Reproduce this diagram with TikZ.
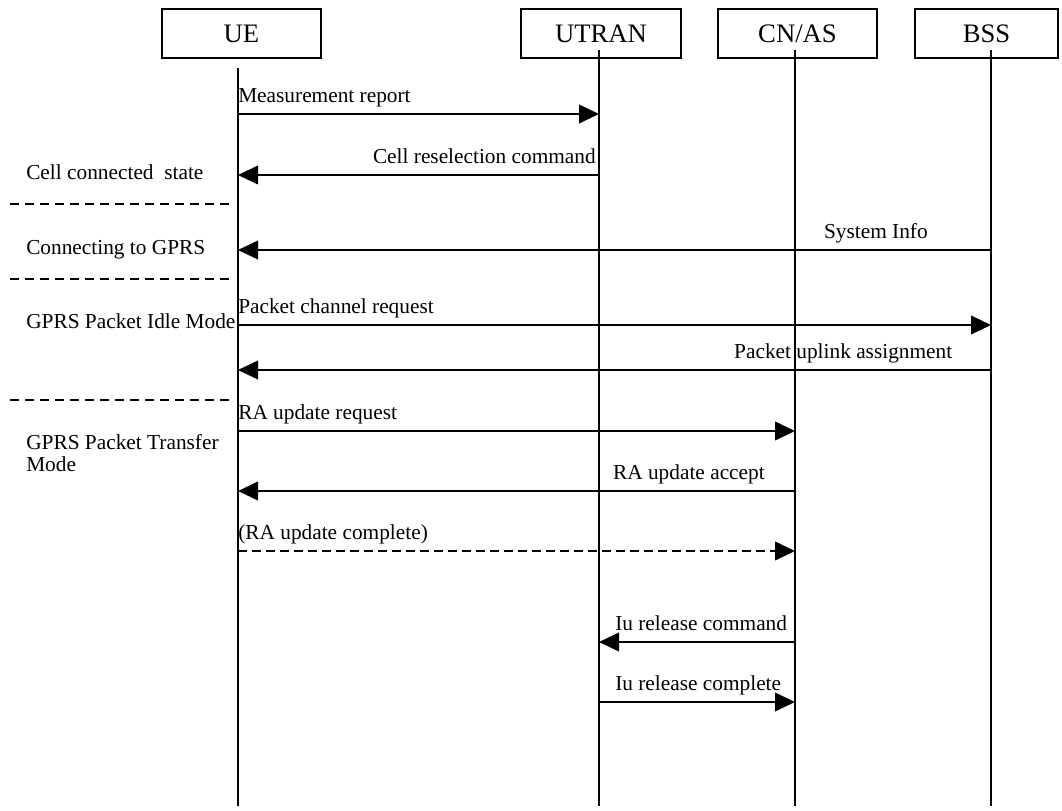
\documentclass[tikz,border=0pt]{standalone}
\usepackage{fontspec}
\setmainfont{Liberation Serif}
\usetikzlibrary{arrows.meta}
\begin{document}
\begin{tikzpicture}[x=0.75pt,y=-0.75pt,
  actor/.style={draw, line width=1.3pt, rectangle, minimum height=36.75pt, inner sep=0pt, font=\fontsize{20}{24}\selectfont},
  life/.style={line width=1.5pt},
  msg/.style={line width=1.3pt, -{Triangle[length=15pt,width=14pt]}},
  dmsg/.style={msg, dash pattern=on 6.75pt off 3.75pt},
  lbl/.style={inner sep=0pt, font=\fontsize{16}{19}\selectfont},
  sep/.style={line width=1.3pt, dash pattern=on 7pt off 4.25pt},
]
\useasboundingbox (0,0) rectangle (1062,810);

% actors
\node[actor, minimum width=119.25pt] (UE) at (241.5,33.5) {UE};
\node[actor, minimum width=120pt] (UTRAN) at (601,33.5) {UTRAN};
\node[actor, minimum width=119.25pt] (CN) at (797.5,33.5) {CN/AS};
\node[actor, minimum width=107.25pt] (BSS) at (986.5,33.5) {BSS};

% lifelines
\coordinate (ueT) at (238,68);  \coordinate (ueB) at (238,806);
\coordinate (utT) at (599,50);  \coordinate (utB) at (599,806);
\coordinate (cnT) at (795,50);  \coordinate (cnB) at (795,806);
\coordinate (bsT) at (991,50);  \coordinate (bsB) at (991,806);
\draw[life] (ueT) -- (ueB);
\draw[life] (utT) -- (utB);
\draw[life] (cnT) -- (cnB);
\draw[life] (bsT) -- (bsB);

% message levels
\coordinate (m1) at (0,114);
\coordinate (m2) at (0,175);
\coordinate (m3) at (0,250);
\coordinate (m4) at (0,325);
\coordinate (m5) at (0,370);
\coordinate (m6) at (0,431);
\coordinate (m7) at (0,491);
\coordinate (m8) at (0,551);
\coordinate (m9) at (0,642);
\coordinate (m10) at (0,702);

\draw[msg] (ueT |- m1) -- (utT |- m1);
\node[lbl, anchor=base west] (l1) at (238,102) {Measurement report};

\draw[msg] (utT |- m2) -- (ueT |- m2);
\node[lbl, anchor=base east] (l2) at (596,163) {Cell reselection command};

\draw[msg] (bsT |- m3) -- (ueT |- m3);
\node[lbl, anchor=base east] (l3) at (928,238) {System Info};

\draw[msg] (ueT |- m4) -- (bsT |- m4);
\node[lbl, anchor=base west] (l4) at (238,313.5) {Packet channel request};

\draw[msg] (bsT |- m5) -- (ueT |- m5);
\node[lbl, anchor=base east] (l5) at (952.5,358.5) {Packet uplink assignment};

\draw[msg] (ueT |- m6) -- (cnT |- m6);
\node[lbl, anchor=base west] (l6) at (238,419) {RA update request};

\draw[msg] (cnT |- m7) -- (ueT |- m7);
\node[lbl, anchor=base east] (l7) at (765,479.5) {RA update accept};

\draw[dmsg] (ueT |- m8) -- (cnT |- m8);
\node[lbl, anchor=base west] (l8) at (238,539) {(RA update complete)};

\draw[msg] (cnT |- m9) -- (utT |- m9);
\node[lbl, anchor=base west] (l9) at (615,630) {Iu release command};

\draw[msg] (utT |- m10) -- (cnT |- m10);
\node[lbl, anchor=base west] (l10) at (615,690) {Iu release complete};

% state labels
\node[lbl, anchor=base west] (s1) at (26,179) {Cell connected\ \ state};
\node[lbl, anchor=base west] (s2) at (26,254) {Connecting to GPRS};
\node[lbl, anchor=base west] (s3) at (26,328.5) {GPRS Packet Idle Mode};
\node[lbl, anchor=base west] (s4a) at (26,449) {GPRS Packet Transfer};
\node[lbl, anchor=base west] (s4b) at (26,471) {Mode};

% separators
\coordinate (d1a) at (10,204);   \coordinate (d1b) at (234,204);
\coordinate (d2a) at (10,279);   \coordinate (d2b) at (234,279);
\coordinate (d3a) at (10,400);   \coordinate (d3b) at (234,400);
\draw[sep] (d1a) -- (d1b);
\draw[sep] (d2a) -- (d2b);
\draw[sep] (d3a) -- (d3b);
\end{tikzpicture}
\end{document}
